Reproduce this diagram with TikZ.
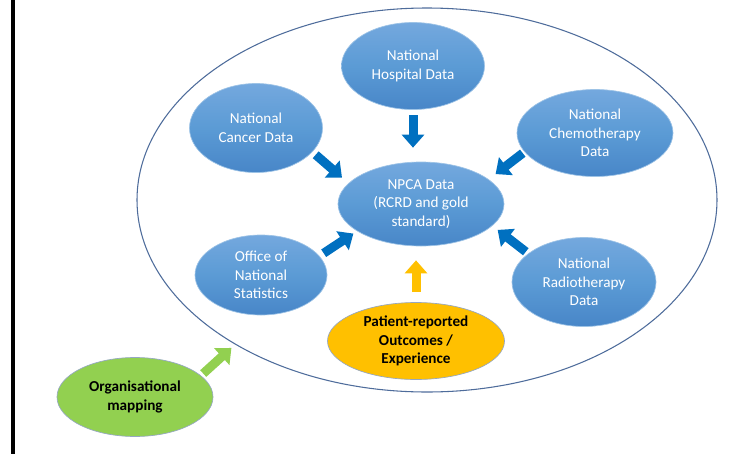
\documentclass[tikz,border=0pt]{standalone}
\usepackage{fontspec}
\setmainfont{Carlito}
\usetikzlibrary{shapes.geometric,arrows.meta}

\definecolor{srcblue}{RGB}{91,155,213}
\definecolor{srctop}{RGB}{116,168,222}
\definecolor{srcbot}{RGB}{72,134,200}
\definecolor{feedblue}{RGB}{0,112,192}
\definecolor{pryellow}{RGB}{255,192,0}
\definecolor{orggreen}{RGB}{146,208,80}
\definecolor{rimgrey}{RGB}{78,108,155}

\begin{document}
\begin{tikzpicture}[
		x=0.75pt, y=-0.75pt,
		every node/.style={
			font=\fontsize{11.4}{14}\selectfont,
			align=center,
			inner sep=0pt
		},
		source/.style={
			ellipse,
			draw=srcblue!60!white,
			line width=0.5pt,
			top color=srctop,
			bottom color=srcbot,
			middle color=srcblue,
			text=white
		},
		extra/.style={
			ellipse,
			draw=rimgrey!60,
			line width=0.5pt,
			fill=#1,
			font=\fontsize{11.4}{14}\selectfont\bfseries
		},
		feed/.style={
			line width=6.75pt,
			draw=#1,
			-{Triangle[width=16.5pt,length=9.75pt]}
		},
		feed/.default=feedblue
		]
		\useasboundingbox (0,0) rectangle (733,454);
		\fill (11,0) rectangle (15,454);
		
		% outer ring
		\node[ellipse, draw=rimgrey, line width=0.8pt,
			minimum width=435pt, minimum height=288pt] (ring) at (427,200) {};
		
		% data sources
		\node[source, minimum width=107.25pt, minimum height=65.25pt] (hospital) at (413,66) {National\\Hospital Data};
		\node[source, minimum width=99.75pt, minimum height=66.75pt] (cancer) at (256,128) {National\\Cancer Data};
		\node[source, minimum width=117pt, minimum height=65.25pt] (chemo) at (595,133) {National\\Chemotherapy\\Data};
		\node[source, minimum width=124.5pt, minimum height=63pt] (npca) at (421,204) {NPCA Data\\(RCRD and gold\\standard)};
		\node[source, minimum width=99pt, minimum height=60pt] (ons) at (261,275) {Office of\\National\\Statistics};
		\node[source, minimum width=108pt, minimum height=66.75pt] (radio) at (584,282) {National\\Radiotherapy\\Data};
		\node[extra=pryellow, minimum width=132.75pt, minimum height=57.75pt] (pro) at (416,341) {Patient-reported\\Outcomes /\\Experience};
		\node[extra=orggreen, minimum width=117pt, minimum height=59.25pt] (orgmap) at (135,397) {Organisational\\mapping};
		
		% feeds into NPCA
		\draw[feed, shorten <=4.1pt, shorten >=10.5pt] (hospital.south) -- (hospital.south |- npca.north);
		\draw[feed, shorten <=3.2pt, shorten >=6.4pt] (cancer.-23.5) -- (npca.164);
		\draw[feed, shorten <=1.5pt, shorten >=6.5pt] (chemo.-165) -- (npca.20);
		\draw[feed, shorten <=3.75pt, shorten >=3.3pt] (ons.18.4) -- (npca.-157.5);
		\draw[feed, shorten <=2.2pt, shorten >=5pt] (radio.153) -- (npca.-17.3);
		\draw[feed=pryellow, shorten <=7.5pt, shorten >=10.5pt] (pro.north) -- (pro.north |- npca.south);
		\draw[feed=orggreen, shorten <=2.25pt, shorten >=3.75pt] (orgmap.18.8) -- (ring.-143.2);
		
	\end{tikzpicture}
\end{document}
